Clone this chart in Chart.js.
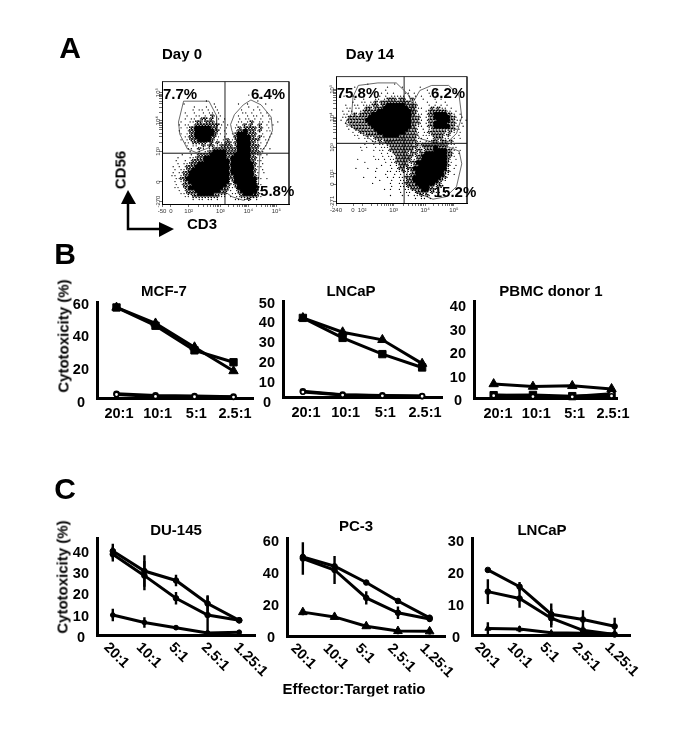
<!DOCTYPE html>
<html lang="en">
<head>
<meta charset="UTF-8">
<title>NK cell phenotype and cytotoxicity</title>
<script src="https://cdnjs.cloudflare.com/ajax/libs/Chart.js/4.4.0/chart.umd.min.js"></script>
<style>
    body { margin: 0; background: #fff; font-family: "Liberation Sans", Arial, sans-serif; }
    #page { position: relative; width: 685px; height: 735px; overflow: hidden; }
    canvas { position: absolute; filter: blur(0.3px); }
    .t { position: absolute; transform: translate(-50%, -50%); font-weight: bold; font-size: 15px; color: #000; white-space: nowrap; z-index: 5; will-change: transform; }
    .panel { font-size: 30px; color: #000; }
    .rot { transform: translate(-50%, -50%) rotate(-90deg); }
    svg { position: absolute; left: 0; top: 0; }
</style>
</head>
<body>
<div id="page">
    <div class="t panel" style="left:70px;top:48px">A</div>
    <div class="t panel" style="left:65px;top:254px">B</div>
    <div class="t panel" style="left:65px;top:489px">C</div>

    <div class="t" style="left:182px;top:53px">Day 0</div>
    <div class="t" style="left:370px;top:53px">Day 14</div>
    <div class="t" style="left:180px;top:93px">7.7%</div>
    <div class="t" style="left:268px;top:93px">6.4%</div>
    <div class="t" style="left:273px;top:190px">75.8%</div>
    <div class="t" style="left:358px;top:92px">75.8%</div>
    <div class="t" style="left:448px;top:92px">6.2%</div>
    <div class="t" style="left:455px;top:191px">15.2%</div>
    <div class="t rot" style="left:120px;top:170px">CD56</div>
    <div class="t" style="left:202px;top:223px">CD3</div>

    <div class="t" style="left:164px;top:290px">MCF-7</div>
    <div class="t" style="left:351px;top:290px">LNCaP</div>
    <div class="t" style="left:551px;top:290px">PBMC donor 1</div>
    <div class="t" style="left:176px;top:529px">DU-145</div>
    <div class="t" style="left:356px;top:525px">PC-3</div>
    <div class="t" style="left:542px;top:529px">LNCaP</div>
    <div class="t rot" style="left:63px;top:336px">Cytotoxicity (%)</div>
    <div class="t rot" style="left:62px;top:577px">Cytotoxicity (%)</div>
    <div class="t" style="left:354px;top:688px">Effector:Target ratio</div>

    <svg width="685" height="735">
        <path d="M128 204V229H159" fill="none" stroke="#000" stroke-width="2.5"/>
        <polygon points="128,190 121,204 136,204"/>
        <polygon points="174,229 159,222 159,237"/>
    </svg>
</div>

<script>
    // Effector:target ratios
    const ratiosB = ['20:1', '10:1', '5:1', '2.5:1'];
    const ratiosC = ['20:1', '10:1', '5:1', '2.5:1', '1.25:1'];

    // Panel B
    const mcfTriangle = [57, 47, 32, 17];
    const mcfSquare = [57, 45.5, 30, 22.5];
    const mcfCircle = [2.6, 1.6, 1.2, 0.8];
    const mcfDiamond = [2.2, 1, 0.8, 0.6];
    const lncapTriangle = [41.5, 34, 30, 17.5];
    const lncapSquare = [41.5, 31, 22.5, 15.5];
    const lncapCircle = [3, 1.2, 0.8, 0.5];
    const lncapDiamond = [2.6, 1, 0.6, 0.4];
    const pbmcTriangle = [6, 4.9, 5.2, 3.9];
    const pbmcSquare = [1.2, 1.3, 0.8, 1.3];
    const pbmcCircle = [1.3, 0.6, 0.6, 1.8];
    const pbmcDiamond = [1, 0.6, 0.5, 0.9];

    // Panel C, with error bar half lengths
    const duUpper = [40, 30.5, 26, 15, 7];
    const duUpperErr = [3.5, 7.5, 2.7, 4, 1];
    const duMiddle = [38.5, 28.3, 17.5, 9.5, 7];
    const duMiddleErr = [3.5, 7, 3, 9, 1];
    const duLower = [9.5, 6, 3.5, 1, 1.3];
    const duLowerErr = [3, 2.5, 1, 1, 1];
    const pcUpper = [51, 45, 34.5, 22.6, 11.7];
    const pcUpperErr = [2, 1, 1.5, 1.5, 2];
    const pcMiddle = [50, 42.6, 24.6, 15, 11];
    const pcMiddleErr = [10.5, 9, 4.3, 4, 2];
    const pcLower = [15.4, 12.3, 6.3, 3.2, 3];
    const pcLowerErr = [2, 1, 1.5, 2, 2];
    const lnUpper = [21, 15.6, 6.7, 5, 2.8];
    const lnUpperErr = [0.5, 1.5, 3.5, 3, 2.8];
    const lnMiddle = [14, 11.8, 5.4, 1.5, 0.2];
    const lnMiddleErr = [4, 3, 3, 1.5, 0.5];
    const lnLower = [2.1, 1.9, 0.7, 0.6, 0.3];
    const lnLowerErr = [2, 1, 0.5, 0.5, 0.3];

    // Flow plots: dot density, one string per row, one char per 3px cell
    // '#' solid, 'o' medium, '.' single events
    const day0Cells = [
        "", "", "", "",
        "                            .",
        "                                .",
        "              .                .",
        "       .         .       .  .     .",
        "          .   .  .          .  .",
        "          . .. .  .       .   . .   .",
        "       .  .  . .. .       .. .  . .",
        "        .  .. . o. .     .  . .. . .",
        "       . .. .oo.o . .    . .. . .  .",
        "      .  ..oo.ooo.  .    .. .o. .. .  .",
        "     . .. .oooooooo. .  . .o.o .o . .",
        "      . .oo#####oo.. .  .o.oooo.o. .",
        "     .  .oo######oo .   .oo#ooo.o ..",
        "      . .oo######o.. . .o###ooo. .  .",
        "       ..oo#####oo. .  .o####oo.o. .",
        "      . .ooo####o.. .o..o####ooo. ..",
        "       .. ooooo.o.o..oo.o####oo.. .",
        "        . .. o.oo..oooo.o####ooo. .",
        "        .. .o. ..oooooooo####ooo.. .",
        "         .  . .oo####oooo####ooo..",
        "      .  . .oooo#####ooo#####oo.. .",
        "     .   ..ooo#######oo######oo. .",
        "    .  . .oooo########o######oo..",
        "     . ..ooo##########o#######o. .",
        "   . . .ooo###########o#######o.. ",
        "    . ..oo############o#######o. .",
        "   . ..oo#############o#######o. .",
        "   .. .oo#############oo######o.",
        "    ..oo##############oo#######o. .",
        "    . .oo#############.o#######.",
        "    . .ooo###########oo.o######o. ",
        "    .. oo###########oo..o######.",
        "     . .ooo########ooo. .o#####o. ",
        "      ..oooo#####oooo. ..oo###oo.",
        "       .. ooooooooo.. . ..oooooo. ",
        "          . .. .. .     .. .o. .",
        ""
    ];
    const day14Cells = [
        "", "",
        "          .        .",
        "      .          .    .     .",
        "   .       .    .       .     .  .",
        "        .  .   . . .   .. .    .",
        "  .  .     .  . . ..... . . .  . .",
        "      .  .   .. .ooo.oo. o.  .   . .",
        "     .  .. ..o.oooooooooo..   .  .  .",
        "   .  .. ...oo.oo######oooo.   . . . .",
        "   .. .. .oo.ooo########ooo..  .o.o.. .",
        "  . ..  .ooooo###########oo.  .oooooo.. .",
        "  .. .o.oooo#############oo.. .oo####oo. .",
        "  ..ooooooo##############ooo. .oo#####oo. .",
        " . .oooooo###############ooo. .ooo####oo.. .",
        "   .ooooooo##############ooo. .oo####ooo. .",
        "   . ooooooo#############oo.. .oo#####oo. .",
        "    . ooooooo###########ooo. . .oooooooo.. ",
        "     . .oooooo#########oooo. ..oooooo.o. .",
        "      .. .oooooo#####oooooo. ...oooo.o.  .",
        "       . .. .oooooooooooooo.. . .ooo.. . .",
        "          . ..o.ooooooooooo.. ..oo.oo.o.",
        "         .  . .. ooooooooo.o.ooooooooo..",
        "        . .  . ...ooooooooo..oooo#ooo. ..",
        "        .   . .. .oooooooo.oo.ooo####oo. .",
        "               . . ooooo.oo.oo#######oo. .",
        "            .  . .. oooooo.oo########oo.",
        "       .     .. . ..ooooo..oo########o. .",
        "         .      . ..oooo.oo##########o.",
        "               .  . .ooo..oo#########o. .",
        "      .   .  .    . .oo.oo###########. .",
        "             .   .. ..o..oo#########oo.",
        "                .  . . ..oo#########o. .",
        "         .   .   . . ..ooo#########oo.",
        "              .   .  ...oo########oo.",
        "            .     .  ..oooo######oo.",
        "                  .  ...oooo###oo.oo",
        "                . .  . ..oooo##oo..",
        "                     . .. .oooo.o.. .",
        "                  .   . . ..o.o. ..",
        "                          . .. .",
        ""
    ];

    // Gates and quadrant lines, in percent of the plot
    const day0GateNK = [[17,84],[37,84],[43,72],[43,60],[37,46],[27,42],[20,45],[14,57],[13,67],[17,84]];
    const day0GateNKT = [[70,85],[78,81],[86,71],[87,60],[82,48],[76,40],[60,49],[55,60],[54,65],[57,73],[64,81],[70,85]];
    const day0GateT = [[51,9],[55,6],[64,3],[72,6],[76,17],[77,41]];
    const day0Vertical = [[49.6,0],[49.6,100]];
    const day0Horizontal = [[0,41.5],[100,41.5]];
    const day14GateNK = [[12,71],[13,84],[17,93],[32,95],[46,95],[55,86],[58,79],[56,58],[49,50],[31,47],[16,58],[7,63],[12,71]];
    const day14GateNKT = [[59,80],[64,89],[73,93],[86,93],[94,85],[96,68],[92,55],[84,47],[74,48],[64,51],[59,61],[59,80]];
    const day14GateT = [[82,46],[94,41],[96,31],[92,13],[84,5],[74,3],[62,8],[54,16],[55,34],[59,45],[82,46]];
    const day14Vertical = [[52,0],[52,100]];
    const day14Horizontal = [[0,47.2],[100,47.2]];

    // Flow axis ticks, percent of the plot, with their labels
    const day0XTicks = [0, 7, 21, 46, 68, 90];
    const day0XLabels = ['-50', '0', '10²', '10³', '10⁴', '10⁵'];
    const day0YTicks = [2, 18, 43, 68, 91];
    const day0YLabels = ['-270', '0', '10³', '10⁴', '10⁵'];
    const day14XTicks = [0, 13, 20, 44, 68, 90];
    const day14XLabels = ['-240', '0', '10²', '10³', '10⁴', '10⁵'];
    const day14YTicks = [1, 15, 23, 44, 68, 90];
    const day14YLabels = ['-271', '0', '10²', '10³', '10⁴', '10⁵'];

    const FONT = '"Liberation Sans", Arial, sans-serif';
    const page = document.getElementById('page');

    function addCanvas(left, top, width, height) {
        const c = document.createElement('canvas');
        c.width = width;
        c.height = height;
        c.style.left = left + 'px';
        c.style.top = top + 'px';
        page.appendChild(c);
        return c.getContext('2d');
    }

    function marks(values, shape, radius, hollow) {
        return {
            data: values.map((v, i) => ({ x: i, y: v })),
            showLine: true,
            borderColor: '#000',
            borderWidth: 3,
            pointStyle: shape,
            pointRadius: radius,
            pointBackgroundColor: hollow ? '#fff' : '#000',
            pointBorderColor: '#000',
            pointBorderWidth: hollow ? 1.6 : 1,
            clip: false
        };
    }

    function errorBars(values, errs) {
        return {
            data: values.flatMap((v, i) => [
                { x: i, y: Math.max(0, v - errs[i]) },
                { x: i, y: v + errs[i] },
                { x: i, y: null }
            ]),
            showLine: true,
            borderColor: '#000',
            borderWidth: 2.4,
            pointRadius: 0,
            clip: false
        };
    }

    // area is the plot rectangle on the page, labelY/labelX the page position of first and last tick labels
    function drawPanel(p) {
        const padLeft = 60, padTop = 12, padRight = 60, padBottom = p.rotated ? 60 : 32;
        const w = p.right - p.left, h = p.bottom - p.top;
        const ctx = addCanvas(p.left - padLeft, p.top - padTop, w + padLeft + padRight, h + padTop + padBottom);
        const n = p.labels.length;
        const band = p.band;
        const yUnit = (p.labelBottom - p.labelTop) / p.yTicks[p.yTicks.length - 1];
        const xUnit = (p.labelLast - p.labelFirst) / (n - 1);
        const tickFont = { family: FONT, size: 14.5, weight: 'bold' };
        new Chart(ctx, {
            type: 'scatter',
            data: { datasets: p.datasets },
            options: {
                responsive: false,
                animation: false,
                events: [],
                layout: { padding: { left: 0, top: padTop, right: padRight, bottom: 0 } },
                plugins: { legend: { display: false }, tooltip: { enabled: false } },
                scales: {
                    x: {
                        type: 'linear', min: -0.5, max: w / band - 0.5,
                        grid: { display: false, drawTicks: false },
                        border: { width: 3, color: '#000' },
                        ticks: { display: false },
                        afterFit: s => { s.height = 0; }
                    },
                    xt: {
                        type: 'linear', position: 'bottom',
                        min: (p.left - p.labelFirst) / xUnit, max: (p.right - p.labelFirst) / xUnit,
                        grid: { display: false, drawTicks: false },
                        border: { display: false },
                        afterBuildTicks: s => { s.ticks = p.labels.map((_, i) => ({ value: i })); },
                        ticks: {
                            callback: v => p.labels[v], autoSkip: false, color: '#000', font: tickFont,
                            padding: p.rotated ? 4 : 7,
                            minRotation: p.rotated ? -45 : 0, maxRotation: p.rotated ? -45 : 0
                        },
                        afterFit: s => {
                            s.height = padBottom;
                            if (p.rotated) s._getXAxisLabelAlignment = () => 'left';
                        }
                    },
                    y: {
                        type: 'linear', position: 'left', min: 0, max: h / p.yUnit,
                        grid: { display: false, drawTicks: false },
                        border: { width: 3, color: '#000' },
                        ticks: { display: false },
                        afterFit: s => { s.width = 0; }
                    },
                    yt: {
                        type: 'linear', position: 'left',
                        min: (p.labelBottom - p.bottom) / yUnit,
                        max: (p.labelBottom - p.top) / yUnit,
                        grid: { display: false, drawTicks: false },
                        border: { display: false },
                        afterBuildTicks: s => { s.ticks = p.yTicks.map(v => ({ value: v })); },
                        ticks: { autoSkip: false, color: '#000', font: tickFont, padding: 8, crossAlign: 'center' },
                        afterFit: s => { s.width = padLeft; }
                    }
                }
            }
        });
    }

    function pairs(list) {
        return list.map(q => ({ x: q[0], y: q[1] }));
    }

    // offsets: where inside a cell the dots of that level go
    function cellDots(rows, cols, ch, radius, offsets) {
        const pts = [];
        rows.forEach((row, r) => {
            for (let c = 0; c < row.length; c++) {
                if (row[c] !== ch) continue;
                offsets.forEach(o => {
                    pts.push({ x: (c + (r % 2 ? o[0] : 1 - o[0])) / cols * 100, y: 100 - (r + o[1]) / rows.length * 100 });
                });
            }
        });
        return { data: pts, pointRadius: radius, pointBackgroundColor: '#000', pointBorderWidth: 0 };
    }

    function outline(list, color, width) {
        return { data: pairs(list), showLine: true, borderColor: color, borderWidth: width, pointRadius: 0, clip: false };
    }

    // minor log ticks between the labelled decades
    const minorSteps = [0.3, 0.48, 0.6, 0.7, 0.78, 0.85, 0.9, 0.95];
    function withMinor(major, decades) {
        const out = major.slice();
        for (let i = 0; i + 1 < decades.length; i++) {
            minorSteps.forEach(m => out.push(decades[i] + m * (decades[i + 1] - decades[i])));
        }
        return out.sort((a, b) => a - b);
    }

    function drawFlow(p) {
        const padLeft = 16, padTop = 4, padRight = 8, padBottom = 14;
        const w = p.right - p.left, h = p.bottom - p.top;
        const ctx = addCanvas(p.left - padLeft, p.top - padTop, w + padLeft + padRight, h + padTop + padBottom);
        const smallFont = { family: FONT, size: 6 };
        const cols = Math.round(w / 3);
        new Chart(ctx, {
            type: 'scatter',
            data: {
                datasets: [
                    cellDots(p.cells, cols, '.', 0.65, [[0.3, 0.5]]),
                    cellDots(p.cells, cols, 'o', 0.85, [[0.2, 0.25], [0.7, 0.75], [0.85, 0.2]]),
                    cellDots(p.cells, cols, '#', 2.4, [[0.5, 0.5]])
                ].concat(p.gates.map(g => outline(g, '#444', 0.8)), [
                    outline(p.vertical, '#222', 1),
                    outline(p.horizontal, '#111', 1),
                    outline([[0, 100], [100, 100], [100, 0]], '#333', 1)
                ])
            },
            options: {
                responsive: false,
                animation: false,
                events: [],
                layout: { padding: { left: 0, top: padTop, right: padRight, bottom: 0 } },
                plugins: { legend: { display: false }, tooltip: { enabled: false } },
                scales: {
                    x: {
                        type: 'linear', min: 0, max: 100,
                        grid: { drawOnChartArea: false, tickLength: 3, tickColor: '#333', tickWidth: 0.7 },
                        border: { color: '#000', width: 1 },
                        afterBuildTicks: s => { s.ticks = withMinor(p.xTicks, p.xTicks.slice(2)).map(v => ({ value: v })); },
                        ticks: {
                            autoSkip: false, color: '#333', font: smallFont, padding: 1, minRotation: 0, maxRotation: 0,
                            callback: v => { const i = p.xTicks.indexOf(v); return i < 0 ? '' : p.xLabels[i]; }
                        },
                        afterFit: s => { s.height = padBottom; }
                    },
                    y: {
                        type: 'linear', min: 0, max: 100,
                        grid: { drawOnChartArea: false, tickLength: 3, tickColor: '#333', tickWidth: 0.7 },
                        border: { color: '#000', width: 1 },
                        afterBuildTicks: s => { s.ticks = withMinor(p.yTicks, p.yTicks.slice(-3)).map(v => ({ value: v })); },
                        ticks: {
                            autoSkip: false, color: '#333', font: smallFont, padding: 1, minRotation: 90, maxRotation: 90,
                            callback: v => { const i = p.yTicks.indexOf(v); return i < 0 ? '' : p.yLabels[i]; }
                        },
                        afterFit: s => {
                            s.width = padLeft;
                            const orig = s._getYAxisLabelAlignment.bind(s);
                            s._getYAxisLabelAlignment = tl => Object.assign(orig(tl), { textAlign: 'center' });
                        }
                    }
                }
            }
        });
    }

    function seriesB(tri, sq, circ, dia) {
        return [marks(dia, 'circle', 2.2, true), marks(circ, 'circle', 2.6, true), marks(sq, 'rect', 5.2), marks(tri, 'triangle', 5.4)];
    }

    function seriesC(a, aErr, b, bErr, c, cErr, lowShape, lowRadius) {
        return [
            errorBars(a, aErr), errorBars(b, bErr), errorBars(c, cErr),
            marks(a, 'circle', 2.8), marks(b, 'circle', 2.8), marks(c, lowShape, lowRadius)
        ];
    }

    drawFlow({
        left: 162, right: 289, top: 81, bottom: 204, cells: day0Cells,
        gates: [day0GateNK, day0GateNKT, day0GateT], vertical: day0Vertical, horizontal: day0Horizontal,
        xTicks: day0XTicks, xLabels: day0XLabels, yTicks: day0YTicks, yLabels: day0YLabels
    });
    drawFlow({
        left: 336, right: 467, top: 76, bottom: 203, cells: day14Cells,
        gates: [day14GateNK, day14GateNKT, day14GateT], vertical: day14Vertical, horizontal: day14Horizontal,
        xTicks: day14XTicks, xLabels: day14XLabels, yTicks: day14YTicks, yLabels: day14YLabels
    });

    drawPanel({
        left: 97, right: 253, top: 298, bottom: 398, band: 39, yUnit: 100 / 60, labels: ratiosB, yTicks: [0, 20, 40, 60],
        labelTop: 300, labelBottom: 403, labelFirst: 119, labelLast: 235,
        datasets: seriesB(mcfTriangle, mcfSquare, mcfCircle, mcfDiamond)
    });
    drawPanel({
        left: 283, right: 442, top: 297, bottom: 397, band: 39.75, yUnit: 2, labels: ratiosB, yTicks: [0, 10, 20, 30, 40, 50],
        labelTop: 299, labelBottom: 403, labelFirst: 306, labelLast: 425,
        datasets: seriesB(lncapTriangle, lncapSquare, lncapCircle, lncapDiamond)
    });
    drawPanel({
        left: 474, right: 617, top: 297, bottom: 398, band: 39.3, yUnit: 2.45, labels: ratiosB, yTicks: [0, 10, 20, 30, 40],
        labelTop: 303, labelBottom: 401, labelFirst: 498, labelLast: 613,
        datasets: seriesB(pbmcTriangle, pbmcSquare, pbmcCircle, pbmcDiamond)
    });
    drawPanel({
        left: 97, right: 255, top: 534, bottom: 635, band: 31.6, yUnit: 2.2, labels: ratiosC, yTicks: [0, 10, 20, 30, 40],
        labelTop: 549, labelBottom: 638, labelFirst: 106, labelLast: 236, rotated: true,
        datasets: seriesC(duUpper, duUpperErr, duMiddle, duMiddleErr, duLower, duLowerErr, 'circle', 2.4)
    });
    drawPanel({
        left: 287, right: 445, top: 534, bottom: 636, band: 31.7, yUnit: 1.625, labels: ratiosC, yTicks: [0, 20, 40, 60],
        labelTop: 537, labelBottom: 638, labelFirst: 293, labelLast: 422, rotated: true,
        datasets: seriesC(pcUpper, pcUpperErr, pcMiddle, pcMiddleErr, pcLower, pcLowerErr, 'triangle', 5)
    });
    drawPanel({
        left: 472, right: 630, top: 534, bottom: 635, band: 31.7, yUnit: 3.25, labels: ratiosC, yTicks: [0, 10, 20, 30],
        labelTop: 537, labelBottom: 638, labelFirst: 477, labelLast: 607, rotated: true,
        datasets: seriesC(lnUpper, lnUpperErr, lnMiddle, lnMiddleErr, lnLower, lnLowerErr, 'triangle', 3.4)
    });
</script>
</body>
</html>
